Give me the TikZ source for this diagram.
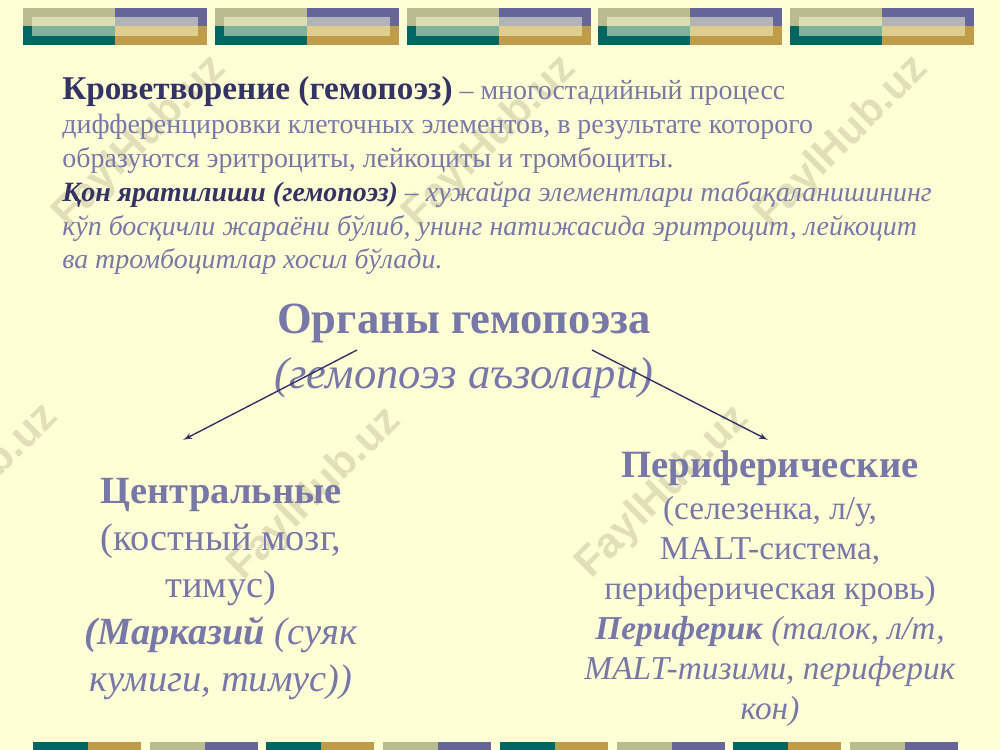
\documentclass[tikz,border=0pt]{standalone}
\usepackage{fontspec}
\setmainfont{Liberation Serif}
\newfontfamily\wmfont{Liberation Sans}
\usetikzlibrary{arrows}
\definecolor{slidebg}{HTML}{FFFFD5}
\definecolor{txtlilac}{HTML}{7777A8}
\definecolor{txtnavy}{HTML}{333366}
\definecolor{wmbeige}{HTML}{E2DFB8}
\definecolor{bandkhaki}{HTML}{B9BC8F}
\definecolor{bandpurple}{HTML}{67669A}
\definecolor{bandteal}{HTML}{006664}
\definecolor{bandgold}{HTML}{C09B48}
\tikzset{
        slidetext/.style = {inner sep=0pt, text=txtlilac},
        txt_para/.style = {slidetext, anchor=north west, align=left,
            font=\fontsize{15.9}{19.3}\selectfont},
        txt_head/.style = {slidetext, anchor=north, align=center,
            font=\fontsize{25.4}{31.2}\selectfont},
        txt_left/.style = {slidetext, anchor=north, align=center,
            font=\fontsize{21.9}{26.7}\selectfont},
        txt_right/.style = {slidetext, anchor=north, align=center,
            font=\fontsize{19}{22.7}\selectfont},
        wmark/.style = {inner sep=0pt, rotate=45, text=wmbeige,
            font=\wmfont\bfseries\fontsize{24}{24}\selectfont},
        conn/.style = {->, >=latex', draw=txtnavy, line width=0.8pt}
    }

\begin{document}
\begin{tikzpicture}[x={(0.02cm,0)}, y={(0,-0.02cm)}]
    \useasboundingbox (0,0) rectangle (1000,750);
    \clip (0,0) rectangle (1000,750);
    \fill[slidebg] (0,0) rectangle (1000,750);
    % top band
    \foreach \i in {0,...,4}{
        \pgfmathsetmacro{\xa}{23+191.75*\i}
        \fill[bandkhaki] (\xa,8) rectangle ++(92,18.5);
        \fill[bandpurple] (\xa+92,8) rectangle ++(92,18.5);
        \fill[bandteal] (\xa,26.5) rectangle ++(92,18.5);
        \fill[bandgold] (\xa+92,26.5) rectangle ++(92,18.5);
        \fill[slidebg, opacity=0.5] (\xa+9,17) rectangle ++(166,19);
    }
    % bottom band
    \foreach \i in {0,...,7}{
        \pgfmathsetmacro{\xa}{33+116.7*\i}
        \ifodd\i
            \fill[bandkhaki] (\xa,742) rectangle ++(55,10);
            \fill[bandpurple] (\xa+55,742) rectangle ++(53,10);
        \else
            \fill[bandteal] (\xa,742) rectangle ++(55,10);
            \fill[bandgold] (\xa+55,742) rectangle ++(53,10);
        \fi
    }
    % watermarks
    \foreach \wx/\wy [count=\k] in {140/142, 490/142, 842/142, -28/490, 315/494, 663/492}
        \node [wmark] (wm\k) at (\wx,\wy) {FaylHub.uz};

    \node [txt_para] (defn) at (62,76) {%
        {\fontsize{18.9}{19.3}\selectfont\textbf{\color{txtnavy}Кроветворение (гемопоэз)}} – многостадийный процесс\\
        дифференцировки клеточных элементов, в результате которого\\
        образуются эритроциты, лейкоциты и тромбоциты.\\
        \textbf{\textit{\color{txtnavy}Қон яратилиши (гемопоэз)}} \textit{– хужайра элементлари табақаланишининг}\\
        \textit{кўп босқичли жараёни бўлиб, унинг натижасида эритроцит, лейкоцит}\\
        \textit{ва тромбоцитлар хосил бўлади.}};

    \node [txt_head] (organs) at (464,304) {\textbf{Органы гемопоэза}\\
        \textit{(гемопоэз аъзолари)}};

    \node [txt_left] (central) at (221,478) {\textbf{Центральные}\\
        (костный мозг,\\
        тимус)\\
        \textbf{\textit{(Марказий}} \textit{(суяк}\\
        \textit{кумиги, тимус))}};

    \node [txt_right] (periph) at (770,450) {{\fontsize{22}{22.7}\selectfont\textbf{Периферические}}\\[1.5pt]
        (селезенка, л/у,\\
        MALT-система,\\
        периферическая кровь)\\
        \textbf{\textit{Периферик}} \textit{(талок, л/т,}\\
        \textit{MALT-тизими, периферик}\\
        \textit{кон)}};

    % connectors
    \coordinate (lstart) at (357,350);
    \coordinate (lend) at (183,440);
    \coordinate (rstart) at (592,350);
    \coordinate (rend) at (768,440);
    \draw [conn] (lstart) -- (lend);
    \draw [conn] (rstart) -- (rend);
\end{tikzpicture}
\end{document}
